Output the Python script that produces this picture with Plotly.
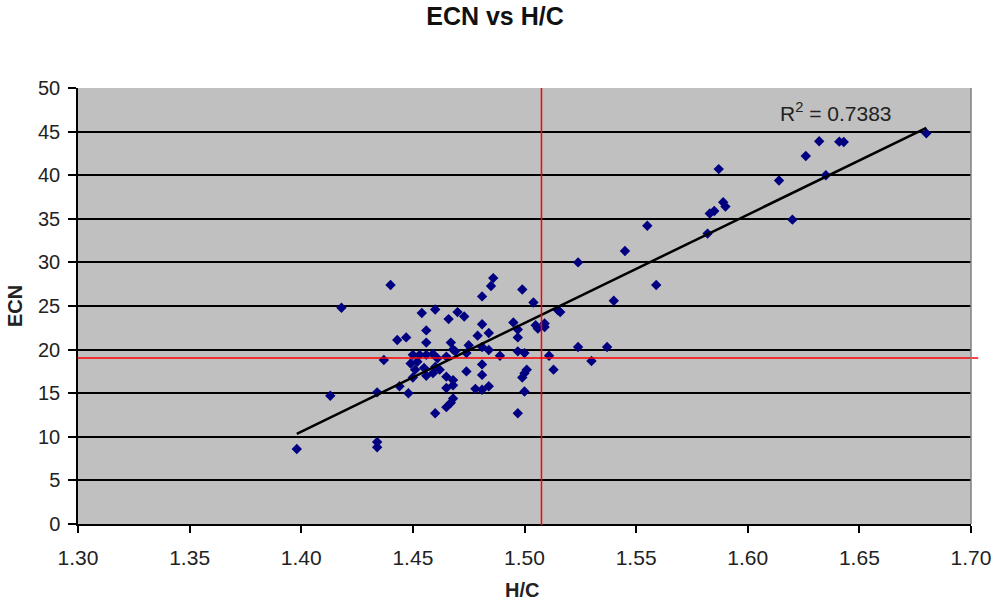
import numpy as np
import plotly.graph_objects as go

# H/C ratio and ECN for each sample
hc = [
    1.398, 1.434, 1.434, 1.413, 1.434, 1.418, 1.440, 1.437, 1.443, 1.447,
    1.444, 1.448, 1.454, 1.460, 1.456, 1.456, 1.450, 1.453, 1.456, 1.459,
    1.449, 1.452, 1.461, 1.465, 1.451, 1.455, 1.450, 1.456, 1.459, 1.460,
    1.462, 1.465, 1.468, 1.465, 1.468, 1.468, 1.467, 1.465, 1.460, 1.466,
    1.470, 1.473, 1.467, 1.475, 1.468, 1.469, 1.474, 1.474, 1.481, 1.481,
    1.478, 1.481, 1.484, 1.481, 1.479, 1.484, 1.481, 1.484, 1.489, 1.486,
    1.485, 1.481, 1.499, 1.504, 1.495, 1.497, 1.497, 1.497, 1.500, 1.501,
    1.500, 1.499, 1.500, 1.497, 1.505, 1.506, 1.509, 1.509, 1.511, 1.513,
    1.515, 1.516, 1.524, 1.524, 1.530, 1.537, 1.540, 1.545, 1.555, 1.559,
    1.582, 1.583, 1.585, 1.587, 1.589, 1.590, 1.614, 1.620, 1.626, 1.632,
    1.635, 1.641, 1.643, 1.680,
]
ecn = [
    8.6, 9.4, 8.8, 14.7, 15.1, 24.8, 27.4, 18.8, 21.1, 21.4,
    15.8, 15.0, 24.2, 24.6, 22.2, 20.8, 19.4, 19.4, 19.4, 19.5,
    18.4, 18.6, 19.0, 19.2, 17.7, 17.9, 16.8, 17.0, 17.3, 18.0,
    17.7, 16.9, 16.5, 15.6, 15.9, 14.4, 13.9, 13.4, 12.7, 23.5,
    24.3, 23.8, 20.8, 20.5, 20.0, 19.8, 19.6, 17.5, 18.3, 17.1,
    15.5, 15.4, 15.8, 22.9, 21.6, 21.9, 20.3, 19.95, 19.3, 28.2,
    27.3, 26.1, 26.9, 25.4, 23.1, 22.3, 21.4, 19.8, 19.6, 17.7,
    17.3, 16.8, 15.2, 12.7, 22.8, 22.4, 23.0, 22.6, 19.3, 17.7,
    24.5, 24.3, 20.3, 30.0, 18.7, 20.3, 25.6, 31.3, 34.2, 27.4,
    33.3, 35.6, 35.9, 40.7, 36.9, 36.4, 39.4, 34.9, 42.2, 43.9,
    40.0, 43.85, 43.8, 44.8,
]

# reference lines (H/C and ECN)
hc_ref = 1.5076
ecn_ref = 19.05
r2_label = "R<sup>2</sup> = 0.7383"

x_ticks = [1.30, 1.35, 1.40, 1.45, 1.50, 1.55, 1.60, 1.65, 1.70]
y_ticks = [0, 5, 10, 15, 20, 25, 30, 35, 40, 45, 50]

FONT = "Arial, Liberation Sans"

# linear trend line over the data range
slope, intercept = np.polyfit(hc, ecn, 1)
x_fit = np.array([min(hc), max(hc)])
y_fit = slope * x_fit + intercept

fig = go.Figure()
fig.add_trace(go.Scatter(
    x=hc, y=ecn, mode="markers",
    marker=dict(symbol="diamond", size=8, color="#000080"),
    showlegend=False, hoverinfo="x+y",
))
fig.add_trace(go.Scatter(
    x=x_fit, y=y_fit, mode="lines",
    line=dict(color="black", width=2.5),
    showlegend=False, hoverinfo="skip",
))

# red crosshair lines
fig.add_shape(type="line", xref="x", yref="paper",
              x0=hc_ref, x1=hc_ref, y0=-0.003, y1=1,
              line=dict(color="rgb(255,0,0)", width=1.5), layer="above")
fig.add_shape(type="line", xref="paper", yref="y",
              x0=0, x1=1.008, y0=ecn_ref, y1=ecn_ref,
              line=dict(color="rgb(255,0,0)", width=1.5), layer="above")
# right plot border
fig.add_shape(type="line", xref="paper", yref="paper",
              x0=1, x1=1, y0=0, y1=1,
              line=dict(color="#808080", width=1.5), layer="above")

fig.add_annotation(text=r2_label, x=1.6137, y=47.3, xref="x", yref="y",
                   xanchor="left", yanchor="middle", showarrow=False,
                   font=dict(family=FONT, size=21, color="#222"))
fig.add_annotation(text="<b>H/C</b>", x=0.497, y=-0.151, xref="paper", yref="paper",
                   xanchor="center", yanchor="middle", showarrow=False,
                   font=dict(family=FONT, size=20, color="#222"))
fig.add_annotation(text="<b>ECN</b>", x=-0.0705, y=0.5, xref="paper", yref="paper",
                   xanchor="center", yanchor="middle", showarrow=False, textangle=-90,
                   font=dict(family=FONT, size=20, color="#222"))

fig.update_layout(
    width=996, height=608,
    margin=dict(l=78, r=25, t=88, b=84, autoexpand=False),
    paper_bgcolor="white",
    plot_bgcolor="#c0c0c0",
    title=dict(text="<b>ECN vs H/C</b>", x=0.497, xanchor="center",
               y=1 - 16 / 608, yanchor="middle", yref="container",
               font=dict(family=FONT, size=25, color="#111")),
    font=dict(family=FONT, size=21, color="#222"),
    xaxis=dict(
        range=[1.30, 1.70], tickvals=x_ticks,
        ticktext=[f"{v:.2f}" for v in x_ticks],
        showgrid=False, zeroline=False, automargin=False,
        showline=True, linecolor="black", linewidth=1.5,
        ticks="outside", ticklen=7, tickwidth=1.5, tickcolor="black",
        ticklabelstandoff=7,
        tickfont=dict(size=21, color="#222"),
    ),
    yaxis=dict(
        range=[0, 50], tickvals=y_ticks, automargin=False,
        showgrid=True, gridcolor="black", gridwidth=1.5, zeroline=False,
        showline=True, linecolor="black", linewidth=1.5,
        ticks="outside", ticklen=8, tickwidth=1.5, tickcolor="black",
        ticklabelstandoff=4,
        tickfont=dict(size=20, color="#222"),
    ),
)

fig.write_html("out.html")
